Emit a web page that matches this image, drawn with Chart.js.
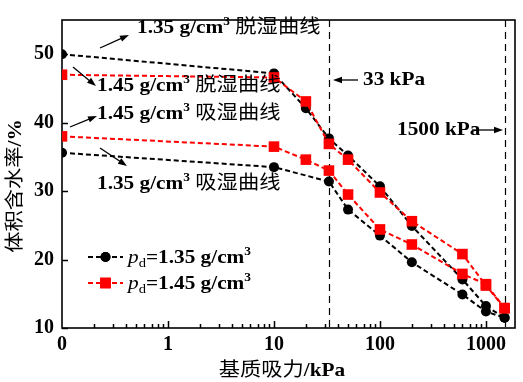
<!DOCTYPE html>
<html><head><meta charset="utf-8">
<script src="https://cdn.jsdelivr.net/npm/chart.js@4"></script>
<style>html,body{margin:0;padding:0;background:#fff}#wrap{width:523px;height:382px}</style>
</head><body><div id="wrap"><canvas id="c" width="523" height="382"></canvas></div>
<script>
// ---- data ----
const suction = [0, 10, 20, 33, 50, 100, 200, 600, 1000, 1500];      // kPa
const dry135  = [50.0, 47.2, 42.1, 37.7, 35.2, 30.7, 24.9, 17.1, 13.2, 11.5];
const wet135  = [35.6, 33.5, null, 31.4, 27.3, 23.5, 19.6, 14.9, 12.4, 11.5];
const dry145  = [47.0, 46.6, 43.1, 36.9, 34.6, 29.8, 25.6, 20.8, 16.2, 12.9];
const wet145  = [38.0, 36.5, 34.6, 33.0, 29.5, 24.4, 22.2, 17.9, 16.4, 12.9];
const xTickValues = [0, 1, 10, 100, 1000];
const xMinorMultipliers = [2, 3, 4, 5, 6, 7, 8, 9];
const yTickValues = [10, 20, 30, 40, 50];
const refLines = [33, 1500];
const ZERO_AT = 0.1; // where suction 0 is placed on the log axis
const X_MAX = 1880;

const LAT = "bold 19px 'Liberation Serif'";
const CJK = "19px 'Noto Sans CJK SC'";
const SUP = "bold 12px 'Liberation Serif'";
const ITA = "italic 19px 'Liberation Serif'";
const SUB = "13px 'Liberation Serif'";
const SX = 1.12; // horizontal stretch of the reference lettering
const RED = '#ff0000', BLK = '#000000';

const toX = v => v === 0 ? ZERO_AT : v;
const pts = arr => suction.map((s, i) => ({x: toX(s), y: arr[i]}));

function ds(label, arr, color, style, radius, order) {
  return {label, data: pts(arr), borderColor: color, backgroundColor: color,
    borderWidth: 2, borderDash: [5, 3], pointStyle: style, pointRadius: radius,
    pointHoverRadius: radius, pointBorderWidth: 0, tension: 0, spanGaps: true,
    order, fill: false};
}

function rich(ctx, x, y, segs, align) {
  let w = 0;
  segs.forEach(s => { ctx.font = s.f; s.w = ctx.measureText(s.t).width; w += s.w; });
  ctx.save();
  ctx.translate(x, y); ctx.scale(SX, 1);
  let cx = align === 'center' ? -w / 2 : 0;
  ctx.textAlign = 'left'; ctx.textBaseline = 'alphabetic';
  segs.forEach(s => { ctx.font = s.f; ctx.fillText(s.t, cx, (s.dy || 0)); cx += s.w; });
  ctx.restore();
}
function arrow(ctx, x1, y1, x2, y2) {
  const a = Math.atan2(y2 - y1, x2 - x1), L = 9, H = 3.2;
  ctx.beginPath(); ctx.moveTo(x1, y1);
  ctx.lineTo(x2 - L * 0.8 * Math.cos(a), y2 - L * 0.8 * Math.sin(a)); ctx.stroke();
  ctx.beginPath(); ctx.moveTo(x2, y2);
  ctx.lineTo(x2 - L * Math.cos(a) + H * Math.sin(a), y2 - L * Math.sin(a) - H * Math.cos(a));
  ctx.lineTo(x2 - L * Math.cos(a) - H * Math.sin(a), y2 - L * Math.sin(a) + H * Math.cos(a));
  ctx.closePath(); ctx.fill();
}
const curveLabel = (d, kind) => [{t: d + ' g/cm', f: LAT}, {t: '3', f: SUP, dy: -8}, {t: ' ', f: LAT}, {t: kind, f: CJK}];

const annotations = [
  {x: 137, y: 33, segs: curveLabel('1.35', '脱湿曲线'), arrow: [100, 48, 129, 35]},
  {x: 97, y: 91, segs: curveLabel('1.45', '脱湿曲线'), arrow: [73, 67, 96, 86]},
  {x: 97, y: 119, segs: curveLabel('1.45', '吸湿曲线'), arrow: [70, 127, 97, 116]},
  {x: 97, y: 189, segs: curveLabel('1.35', '吸湿曲线'), arrow: [100, 148, 127, 166]},
  {x: 363, y: 85, segs: [{t: '33 kPa', f: LAT}], arrow: [358, 80, 333, 80]},
  {x: 397, y: 135, segs: [{t: '1500 kPa', f: LAT}], arrow: [472, 130, 503, 130]}
];
const legendItems = [
  {color: BLK, style: 'circle', radius: 5, val: '1.35', y: 257},
  {color: RED, style: 'rect', radius: 7.5, val: '1.45', y: 283}
];

function drawTicks(chart) {
  const ctx = chart.ctx, a = chart.chartArea, xs = chart.scales.x, ys = chart.scales.y;
  ctx.save();
  ctx.setLineDash([]);
  ctx.strokeStyle = BLK; ctx.lineWidth = 1.5;
  ctx.beginPath();
  xTickValues.map(toX).forEach(d => {
    if (d > ZERO_AT) {
      const px = Math.round(xs.getPixelForValue(d)) + 0.5;
      ctx.moveTo(px, a.bottom); ctx.lineTo(px, a.bottom - 7);
    }
    xMinorMultipliers.forEach(m => {
      const v = m * d;
      if (v > X_MAX) return;
      const px = Math.round(xs.getPixelForValue(v)) + 0.5;
      ctx.moveTo(px, a.bottom); ctx.lineTo(px, a.bottom - 4);
    });
  });
  yTickValues.forEach(v => {
    const py = Math.round(ys.getPixelForValue(v)) + 0.5;
    ctx.moveTo(a.left, py); ctx.lineTo(a.left + 6, py);
  });
  ctx.stroke();
  ctx.restore();
}

const decor = {
  id: 'decor',
  beforeDatasetsDraw(chart) {
    const {ctx, chartArea: a, scales: {x}} = chart;
    ctx.save();
    ctx.strokeStyle = BLK; ctx.lineWidth = 1.6;
    ctx.strokeRect(a.left, a.top, a.right - a.left, a.bottom - a.top);
    ctx.setLineDash([7, 5]); ctx.lineWidth = 1.2;
    refLines.forEach(v => {
      const px = Math.round(x.getPixelForValue(v)) + 0.5;
      ctx.beginPath(); ctx.moveTo(px, a.top); ctx.lineTo(px, a.bottom); ctx.stroke();
    });
    ctx.restore();
  },
  afterDraw(chart) {
    const {ctx} = chart;
    drawTicks(chart);
    ctx.save();
    ctx.setLineDash([]);
    ctx.fillStyle = BLK; ctx.strokeStyle = BLK; ctx.lineWidth = 1.3;
    annotations.forEach(an => {
      rich(ctx, an.x, an.y, an.segs, 'left');
      arrow(ctx, ...an.arrow);
    });
    legendItems.forEach(it => {
      ctx.save();
      ctx.strokeStyle = it.color; ctx.fillStyle = it.color; ctx.lineWidth = 2;
      ctx.setLineDash([5, 3]);
      ctx.beginPath(); ctx.moveTo(88, it.y); ctx.lineTo(123, it.y); ctx.stroke();
      ctx.setLineDash([]);
      Chart.helpers.drawPoint(ctx, {pointStyle: it.style, radius: it.radius, borderWidth: 0}, 105.5, it.y);
      ctx.fill();
      ctx.restore();
      ctx.fillStyle = BLK;
      rich(ctx, 128, it.y + 6, [{t: 'p', f: ITA}, {t: 'd', f: SUB, dy: 4}, {t: '=' + it.val + ' g/cm', f: LAT}, {t: '3', f: SUP, dy: -8}], 'left');
    });
    rich(ctx, 282, 376, [{t: '基质吸力', f: CJK}, {t: '/kPa', f: LAT}], 'center');
    ctx.save(); ctx.translate(21, 186); ctx.rotate(-Math.PI / 2);
    rich(ctx, 0, 0, [{t: '体积含水率', f: CJK}, {t: '/%', f: LAT}], 'center');
    ctx.restore();
    ctx.restore();
  }
};

new Chart(document.getElementById('c'), {
  type: 'line',
  data: {datasets: [
    ds('1.45 脱湿', dry145, RED, 'rect', 7.5, 0),
    ds('1.45 吸湿', wet145, RED, 'rect', 7.5, 1),
    ds('1.35 脱湿', dry135, BLK, 'circle', 5, 2),
    ds('1.35 吸湿', wet135, BLK, 'circle', 5, 3)
  ]},
  options: {
    responsive: false, animation: false, devicePixelRatio: 1,
    layout: {padding: {left: 0, right: 8, top: 7, bottom: 0}},
    plugins: {legend: {display: false}, tooltip: {enabled: false}},
    events: [],
    scales: {
      x: {type: 'logarithmic', min: ZERO_AT, max: X_MAX,
        grid: {display: false, drawTicks: false}, border: {display: false},
        afterBuildTicks: s => { s.ticks = xTickValues.map(v => ({value: toX(v), major: true})); },
        afterFit: s => { s.height = 54; },
        ticks: {font: {family: 'Liberation Serif', size: 20, weight: 'bold'}, color: BLK, padding: 5,
          autoSkip: false, maxRotation: 0,
          callback: v => v === ZERO_AT ? '0' : String(v)}},
      y: {type: 'linear', min: 10, max: 55,
        grid: {display: false, drawTicks: false}, border: {display: false},
        afterBuildTicks: s => { s.ticks = yTickValues.map(v => ({value: v})); },
        afterFit: s => { s.width = 62; },
        ticks: {font: {family: 'Liberation Serif', size: 20, weight: 'bold'}, color: BLK, padding: 8,
          callback: v => String(v)}}
    }
  },
  plugins: [decor]
});
</script></body></html>
